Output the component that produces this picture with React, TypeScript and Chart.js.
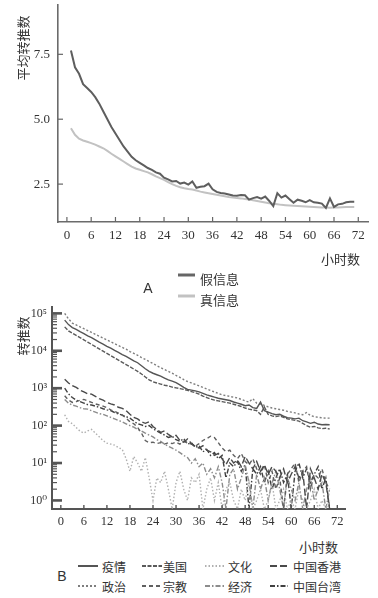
import React, { useEffect, useRef } from "react";
import { Chart, registerables } from "chart.js";

Chart.register(...registerables);

// ---------- Panel A data ----------
const hoursA = [
  1, 2, 3, 4, 5, 6, 7, 8, 9, 10, 11, 12, 13, 14, 15, 16, 17, 18, 19, 20,
  21, 22, 23, 24, 25, 26, 27, 28, 29, 30, 31, 32, 33, 34, 35, 36, 37, 38, 39, 40,
  41, 42, 43, 44, 45, 46, 47, 48, 49, 50, 51, 52, 53, 54, 55, 56, 57, 58, 59, 60,
  61, 62, 63, 64, 65, 66, 67, 68, 69, 70, 71,
];
const fakeNews = [
  7.65, 7.0, 6.75, 6.35, 6.2, 6.05, 5.85, 5.6, 5.3, 5.0, 4.7, 4.45, 4.2, 3.95, 3.75, 3.55, 3.42, 3.32, 3.22, 3.12,
  3.05, 2.95, 2.9, 2.75, 2.68, 2.6, 2.62, 2.52, 2.56, 2.48, 2.6, 2.36, 2.4, 2.42, 2.52, 2.3, 2.2, 2.16, 2.14, 2.1,
  2.06, 2.05, 2.08, 2.07, 1.9, 1.96, 2.0, 1.94, 2.02, 1.85, 1.65, 2.15, 1.98, 2.06, 1.92, 1.78, 1.9, 1.86, 1.8, 1.88,
  1.8, 1.78, 1.75, 1.58, 1.95, 1.62, 1.72, 1.74, 1.8, 1.82, 1.82,
];
const trueNews = [
  4.65, 4.4, 4.25, 4.18, 4.13, 4.08, 4.02, 3.95, 3.88, 3.78, 3.67, 3.57, 3.47, 3.37, 3.27, 3.17, 3.1, 3.05, 3.0, 2.95,
  2.88, 2.8, 2.73, 2.66, 2.58, 2.5, 2.43, 2.38, 2.34, 2.31, 2.29, 2.25, 2.21, 2.18, 2.15, 2.12, 2.09, 2.06, 2.03, 2.0,
  1.98, 1.96, 1.95, 1.93, 1.91, 1.88, 1.85, 1.82, 1.79, 1.76, 1.74, 1.72, 1.7, 1.69, 1.68, 1.67, 1.66, 1.65, 1.64, 1.63,
  1.62, 1.61, 1.6, 1.6, 1.59, 1.6, 1.6, 1.61, 1.62, 1.62, 1.62,
];
const xTickValues = [0, 6, 12, 18, 24, 30, 36, 42, 48, 54, 60, 66, 72];
const yTickValuesA = [2.5, 5.0, 7.5];

// ---------- Panel B data ----------
const hoursB = hoursA.slice(0, 70);
const epidemic = [
  66100, 50100, 41700, 37200, 32400, 28800, 25100, 22400, 19500, 17000,
  15100, 13200, 11700, 10200, 9120, 7940, 7080, 6170, 5370, 4790,
  3980, 3310, 2820, 2510, 2290, 2090, 1860, 1660, 1550, 1410,
  1230, 1050, 933, 891, 851, 794, 724, 661, 617, 575,
  537, 513, 490, 468, 427, 398, 372, 339, 355, 302,
  288, 427, 251, 229, 209, 195, 200, 178, 162, 158,
  151, 158, 135, 126, 115, 123, 110, 105, 107, 105,
];
const usa = [
  43600, 33900, 29500, 25700, 22400, 19500, 17000, 14800, 12900, 11200,
  9770, 8510, 7410, 6460, 5620, 4900, 4270, 3720, 3240, 2820,
  2400, 2000, 1660, 1480, 1380, 1290, 1200, 1150, 1070, 1020,
  977, 933, 871, 813, 759, 692, 617, 562, 513, 479,
  457, 437, 417, 398, 372, 347, 324, 295, 275, 263,
  251, 200, 316, 200, 182, 174, 182, 166, 151, 145,
  138, 132, 115, 100, 91, 95, 87, 83, 85, 81,
];
const culture = [
  195, 129, 112, 89, 71, 63, 72, 79, 63, 50,
  40, 34, 32, 30, 26, 23, 13, 6, 15, 10,
  6, 14, 4, 1, 4, 3, 6, 2, 0, 3,
  6, 2, 1, 4, 3, 5, 0, 2, 4, 1,
  3, 0, 2, 3, 1, 0, 2, 1, 3, 0,
  1, 2, 0, 1, 3, 0, 1, 2, 0, 1,
  0, 2, 1, 0, 1, 2, 0, 1, 0, 1,
];
const hongKong = [
  1740, 1380, 1170, 1050, 891, 794, 708, 692, 603, 525,
  479, 417, 380, 355, 309, 288, 251, 200, 166, 151,
  126, 115, 126, 95, 79, 66, 72, 58, 50, 55,
  40, 36, 44, 33, 28, 25, 29, 22, 20, 16,
  18, 13, 9, 14, 10, 12, 8, 15, 10, 7,
  11, 6, 9, 5, 8, 6, 4, 7, 3, 5,
  8, 4, 6, 0, 7, 4, 2, 5, 3, 0,
];
const politics = [
  100000, 71000, 55000, 49000, 43600, 38900, 34700, 30900, 27500, 24500,
  21900, 19500, 17400, 15500, 13800, 12300, 11000, 9550, 8510, 7590,
  6610, 5890, 5130, 4570, 3980, 3550, 3160, 2820, 2510, 2190,
  1950, 1700, 1510, 1380, 1260, 1150, 1050, 955, 871, 794,
  724, 661, 631, 603, 575, 550, 501, 457, 427, 525,
  398, 372, 347, 316, 295, 282, 269, 257, 240, 229,
  219, 204, 195, 224, 186, 174, 166, 162, 158, 158,
];
const religion = [
  631, 479, 417, 437, 479, 501, 457, 417, 380, 355,
  331, 302, 263, 240, 214, 191, 158, 126, 112, 89,
  63, 40, 35, 36, 33, 35, 32, 35, 33, 36,
  32, 38, 35, 32, 28, 33, 40, 45, 52, 48,
  35, 25, 20, 22, 16, 13, 18, 11, 9, 13,
  7, 5, 9, 3, 6, 2, 4, 0, 5, 7,
  10, 3, 6, 8, 2, 5, 4, 7, 3, 2,
];
const economy = [
  501, 398, 355, 331, 302, 282, 275, 251, 229, 209,
  200, 182, 166, 151, 138, 126, 112, 100, 91, 79,
  72, 63, 56, 50, 42, 38, 32, 28, 25, 22,
  19, 16, 14, 10, 13, 8, 10, 5, 7, 4,
  8, 3, 0, 5, 7, 2, 4, 9, 3, 0,
  5, 2, 4, 1, 3, 6, 2, 0, 4, 2,
  1, 3, 0, 2, 4, 1, 2, 3, 0, 2,
];
const taiwan = [
  1000, 708, 562, 479, 437, 398, 363, 355, 331, 309,
  282, 263, 251, 224, 204, 191, 174, 158, 132, 112,
  105, 95, 100, 83, 72, 63, 56, 48, 52, 42,
  38, 45, 32, 35, 26, 29, 20, 23, 16, 19,
  13, 16, 4, 10, 8, 11, 6, 9, 0, 7,
  5, 8, 3, 6, 2, 4, 7, 3, 5, 0,
  6, 10, 4, 7, 3, 5, 8, 2, 4, 0,
];
const yDecadesB = [1, 10, 100, 1000, 10000, 100000];
const yDecadeLabelsB = ["10⁰", "10¹", "10²", "10³", "10⁴", "10⁵"];
const minorMultipliers = [2, 3, 4, 5, 6, 7, 8, 9];

// ---------- styles ----------
const SERIF = "'Liberation Serif', 'DejaVu Serif', serif";
const CJK = '"Noto Sans CJK SC", "Noto Sans", sans-serif';
const TEXT = "#333";

Chart.defaults.font.family = SERIF;
Chart.defaults.color = TEXT;

const seriesB = [
  { label: "疫情", data: epidemic, color: "#555555", dash: [] as number[] },
  { label: "美国", data: usa, color: "#5a5a5a", dash: [4, 1.5] },
  { label: "文化", data: culture, color: "#b0b0b0", dash: [1.5, 2] },
  { label: "中国香港", data: hongKong, color: "#4a4a4a", dash: [7, 3] },
  { label: "政治", data: politics, color: "#7e7e7e", dash: [2, 2] },
  { label: "宗教", data: religion, color: "#606060", dash: [4, 3] },
  { label: "经济", data: economy, color: "#8c8c8c", dash: [5, 2, 1.5, 2] },
  { label: "中国台湾", data: taiwan, color: "#404040", dash: [5, 2, 1.5, 2] },
];

// legend layout for panel B (4 columns x 2 rows)
const legendColsB = [
  { line: 78, w: 20, text: 102 },
  { line: 142, w: 20, text: 163 },
  { line: 205, w: 21, text: 228 },
  { line: 270, w: 18, text: 293 },
];
const legendRowsB = [567, 587];

const X_MIN_A = -2.2, X_MAX_A = 74.4, Y_MIN_A = 1.04, Y_MAX_A = 9.4;
const X_MIN_B = -2.3, X_MAX_B = 74.0, Y_MIN_B = 0.59, Y_MAX_B = 148000;

const inwardTicks = {
  id: "inwardTicks",
  afterDraw(chart: any, _args: any, opts: any) {
    const { ctx, chartArea, scales } = chart;
    const xs = scales.x, ys = scales.y;
    ctx.save();
    ctx.strokeStyle = opts.color;
    ctx.lineCap = "butt";
    ctx.lineWidth = opts.xWidth;
    for (const v of opts.xValues) {
      const px = xs.getPixelForValue(v);
      ctx.beginPath();
      ctx.moveTo(px, chartArea.bottom);
      ctx.lineTo(px, chartArea.bottom - opts.xLen);
      ctx.stroke();
    }
    for (const t of opts.yMarks) {
      const py = ys.getPixelForValue(t.value);
      ctx.lineWidth = t.width;
      ctx.beginPath();
      ctx.moveTo(chartArea.left, py);
      ctx.lineTo(chartArea.left + t.len, py);
      ctx.stroke();
    }
    ctx.restore();
  },
};

function buildChartA(canvas: HTMLCanvasElement) {
  return new Chart(canvas, {
    type: "line",
    data: {
      datasets: [
        {
          label: "假信息",
          data: hoursA.map((h, i) => ({ x: h, y: fakeNews[i] })),
          borderColor: "#5e5e5e",
          borderWidth: 2,
          pointRadius: 0,
          tension: 0,
          fill: false,
        },
        {
          label: "真信息",
          data: hoursA.map((h, i) => ({ x: h, y: trueNews[i] })),
          borderColor: "#c2c2c2",
          borderWidth: 2,
          pointRadius: 0,
          tension: 0,
          fill: false,
        },
      ],
    },
    options: {
      responsive: false,
      animation: false,
      events: [],
      layout: { padding: { left: 0, right: 10, top: 5, bottom: 0 } },
      plugins: {
        legend: { display: false },
        tooltip: { enabled: false },
        inwardTicks: {
          color: "#666",
          xWidth: 1.2,
          xLen: 5,
          xValues: xTickValues,
          yMarks: yTickValuesA.map((v) => ({ value: v, len: 5, width: 1.2 })),
        },
      } as any,
      scales: {
        x: {
          type: "linear",
          min: X_MIN_A,
          max: X_MAX_A,
          bounds: "data",
          grid: { display: false, drawTicks: false },
          border: { display: true, color: "#6b6b6b", width: 1.6 },
          ticks: { padding: 6, font: { family: SERIF, size: 13 }, color: TEXT, autoSkip: false, maxRotation: 0 },
          afterBuildTicks: (s: any) => {
            s.ticks = xTickValues.map((v) => ({ value: v }));
          },
          afterFit: (s: any) => {
            s.height = 28;
            s.paddingLeft = 0;
            s.paddingRight = 0;
          },
        },
        y: {
          type: "linear",
          min: Y_MIN_A,
          max: Y_MAX_A,
          bounds: "data",
          grid: { display: false, drawTicks: false },
          border: { display: true, color: "#6b6b6b", width: 1.6 },
          ticks: {
            padding: 8,
            font: { family: SERIF, size: 13 },
            color: TEXT,
            autoSkip: false,
            callback: (v: any) => Number(v).toFixed(1),
          },
          afterBuildTicks: (s: any) => {
            s.ticks = yTickValuesA.map((v) => ({ value: v }));
          },
          afterFit: (s: any) => {
            s.width = 58;
            s.paddingTop = 0;
            s.paddingBottom = 0;
          },
        },
      },
    } as any,
    plugins: [inwardTicks],
  });
}

function buildChartB(canvas: HTMLCanvasElement) {
  const yMarks: { value: number; len: number; width: number }[] = [];
  yDecadesB.forEach((d) => {
    yMarks.push({ value: d, len: 10, width: 2.6 });
    minorMultipliers.forEach((m) => {
      if (d * m < Y_MAX_B) yMarks.push({ value: d * m, len: 5, width: 1.2 });
    });
  });
  return new Chart(canvas, {
    type: "line",
    data: {
      datasets: seriesB.map((s) => ({
        label: s.label,
        data: hoursB.map((h, i) => ({ x: h, y: s.data[i] === 0 ? Y_MIN_B : s.data[i] })),
        borderColor: s.color,
        borderDash: s.dash,
        borderWidth: 1.4,
        pointRadius: 0,
        tension: 0,
        fill: false,
      })),
    },
    options: {
      responsive: false,
      animation: false,
      events: [],
      layout: { padding: { left: 0, right: 33, top: 12, bottom: 0 } },
      plugins: {
        legend: { display: false },
        tooltip: { enabled: false },
        inwardTicks: {
          color: "#555",
          xWidth: 1.4,
          xLen: 4,
          xValues: xTickValues,
          yMarks,
        },
      } as any,
      scales: {
        x: {
          type: "linear",
          min: X_MIN_B,
          max: X_MAX_B,
          bounds: "data",
          grid: { display: false, drawTicks: false },
          border: { display: true, color: "#555", width: 2 },
          ticks: { padding: 5, font: { family: SERIF, size: 12.5 }, color: TEXT, autoSkip: false, maxRotation: 0 },
          afterBuildTicks: (s: any) => {
            s.ticks = xTickValues.map((v) => ({ value: v }));
          },
          afterFit: (s: any) => {
            s.height = 26;
            s.paddingLeft = 0;
            s.paddingRight = 0;
          },
        },
        y: {
          type: "logarithmic",
          min: Y_MIN_B,
          max: Y_MAX_B,
          bounds: "data",
          grid: { display: false, drawTicks: false },
          border: { display: true, color: "#555", width: 2 },
          ticks: {
            padding: 5,
            font: { family: SERIF, size: 12 },
            color: TEXT,
            autoSkip: false,
            callback: (v: any) => {
              const i = yDecadesB.indexOf(Number(v));
              return i >= 0 ? yDecadeLabelsB[i] : "";
            },
          },
          afterBuildTicks: (s: any) => {
            s.ticks = yMarks.map((m) => ({ value: m.value }));
          },
          afterFit: (s: any) => {
            s.width = 52;
            s.paddingTop = 0;
            s.paddingBottom = 0;
          },
        },
      },
    } as any,
    plugins: [inwardTicks],
  });
}

const abs = (extra: React.CSSProperties): React.CSSProperties => ({
  position: "absolute",
  whiteSpace: "nowrap",
  fontFamily: CJK,
  color: TEXT,
  ...extra,
});

function VTitle({ text, cx, cy }: { text: string; cx: number; cy: number }) {
  return (
    <div
      style={abs({
        left: cx,
        top: cy,
        fontSize: 13,
        lineHeight: "13px",
        transform: "translate(-50%, -50%) rotate(-90deg)",
      })}
    >
      {text}
    </div>
  );
}

function LegendLine({ left, cy, w, color, dash, width }: any) {
  return (
    <svg width={w} height={6} style={{ position: "absolute", left, top: cy - 3 }}>
      <line x1={0} y1={3} x2={w} y2={3} stroke={color} strokeWidth={width} strokeDasharray={dash.length ? dash.join(" ") : undefined} />
    </svg>
  );
}

export default function App() {
  const refA = useRef<HTMLCanvasElement>(null);
  const refB = useRef<HTMLCanvasElement>(null);

  useEffect(() => {
    const a = buildChartA(refA.current!);
    const b = buildChartB(refB.current!);
    return () => {
      a.destroy();
      b.destroy();
    };
  }, []);

  return (
    <div style={{ position: "absolute", left: 0, top: 0, width: 378, height: 598, background: "#fff", overflow: "hidden" }}>
      <canvas ref={refA} width={378} height={250} style={{ position: "absolute", left: 0, top: 0 }} />
      <canvas ref={refB} width={378} height={240} style={{ position: "absolute", left: 0, top: 295 }} />

      {/* Panel A texts */}
      <VTitle text="平均转推数" cx={22} cy={48} />
      <div style={abs({ right: 18, top: 258 - 6.5, fontSize: 13, lineHeight: "13px" })}>小时数</div>
      <div style={abs({ left: 148, top: 288, fontSize: 14, lineHeight: "14px", fontFamily: '"Liberation Sans", Arial, sans-serif', transform: "translate(-50%, -50%)" })}>A</div>
      <LegendLine left={178} cy={274.5} w={17} color="#666" dash={[]} width={3} />
      <div style={abs({ left: 200, top: 278 - 6.5, fontSize: 13, lineHeight: "13px" })}>假信息</div>
      <LegendLine left={178} cy={295.5} w={17} color="#c2c2c2" dash={[]} width={3} />
      <div style={abs({ left: 200, top: 299 - 6.5, fontSize: 13, lineHeight: "13px" })}>真信息</div>

      {/* Panel B texts */}
      <VTitle text="转推数" cx={22} cy={336} />
      <div style={abs({ right: 40, top: 546 - 6.5, fontSize: 13, lineHeight: "13px" })}>小时数</div>
      <div style={abs({ left: 62, top: 576, fontSize: 14, lineHeight: "14px", fontFamily: '"Liberation Sans", Arial, sans-serif', transform: "translate(-50%, -50%)" })}>B</div>
      {seriesB.map((s, i) => {
        const col = legendColsB[i % 4];
        const cy = legendRowsB[Math.floor(i / 4)];
        return (
          <React.Fragment key={s.label}>
            <LegendLine left={col.line} cy={cy - 1} w={col.w} color={s.color} dash={s.dash} width={2} />
            <div style={abs({ left: col.text, top: cy - 6, fontSize: 12, lineHeight: "12px" })}>{s.label}</div>
          </React.Fragment>
        );
      })}
    </div>
  );
}
